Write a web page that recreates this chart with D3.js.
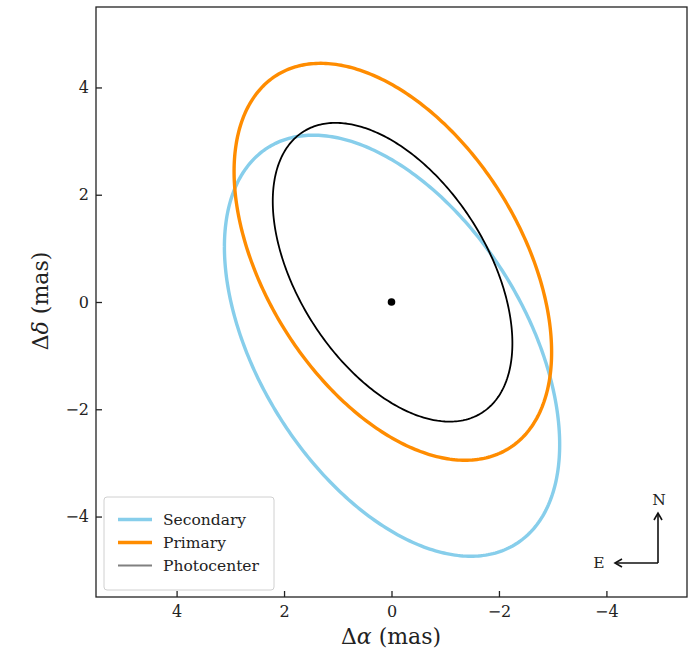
<!DOCTYPE html>
<html><head><meta charset="utf-8">
<script src="https://cdn.jsdelivr.net/npm/d3@7"></script>
<style>body{margin:0;background:#fff;} svg{display:block;}</style>
</head><body>
<svg id="c" width="697" height="654"></svg>
<script>
// ---- data ----
const series = ["Secondary", "Primary", "Photocenter"];
const colors = ["#87CEEB", "#FF8C00", "#000000"];
const legendColors = ["#87CEEB", "#FF8C00", "#808080"];
const widths = [3.4, 3.4, 1.8];
// ellipse parameters (mas): centre, half-extent in x and y, x-offset of topmost point
const centerX = [-0.01, -0.025, -0.02];
const centerY = [-0.815, 0.75, 0.555];
const halfX = [3.12, 2.955, 2.23];
const halfY = [3.925, 3.70, 2.785];
const topShift = [1.465, 1.345, 1.06];
const xTicks = [4, 2, 0, -2, -4];
const yTicks = [-4, -2, 0, 2, 4];
const xDomain = [5.5, -5.5];
const yDomain = [-5.5, 5.5];

// ---- layout ----
const L = 96, R = 687, T = 7, B = 597;
const svg = d3.select("#c");
const x = d3.scaleLinear().domain(xDomain).range([L, R]);
const y = d3.scaleLinear().domain(yDomain).range([B, T]);
const font = "DejaVu Serif";

function ellipsePts(i) {
  const hx = halfX[i], hy = halfY[i];
  const S = topShift[i] * hy;
  const c = S / hx;
  const d = Math.sqrt(Math.max(hy * hy - c * c, 0));
  const pts = [];
  for (let k = 0; k <= 360; k++) {
    const t = k / 360 * 2 * Math.PI;
    pts.push([centerX[i] + hx * Math.cos(t), centerY[i] + c * Math.cos(t) + d * Math.sin(t)]);
  }
  return pts;
}
const line = d3.line().x(p => x(p[0])).y(p => y(p[1]));

const g = svg.append("g");
series.forEach((s, i) => {
  g.append("path").attr("d", line(ellipsePts(i)))
    .attr("fill", "none").attr("stroke", colors[i]).attr("stroke-width", widths[i]);
});
g.append("circle").attr("cx", x(0)).attr("cy", y(0)).attr("r", 3.8).attr("fill", "#000");

// frame
svg.append("rect").attr("x", L).attr("y", T).attr("width", R - L).attr("height", B - T)
  .attr("fill", "none").attr("stroke", "#222").attr("stroke-width", 1.3);

// axes (ticks inward)
const xa = svg.append("g").attr("transform", `translate(0,${B})`)
  .call(d3.axisBottom(x).tickValues(xTicks).tickSizeInner(-6).tickSizeOuter(0).tickPadding(9)
    .tickFormat(d => d < 0 ? "\u2212" + Math.abs(d) : d));
const ya = svg.append("g").attr("transform", `translate(${L},0)`)
  .call(d3.axisLeft(y).tickValues(yTicks).tickSizeInner(-6).tickSizeOuter(0).tickPadding(7)
    .tickFormat(d => d < 0 ? "\u2212" + Math.abs(d) : d));
[xa, ya].forEach(a => {
  a.select(".domain").remove();
  a.selectAll(".tick line").attr("stroke", "#222").attr("stroke-width", 1.3);
  a.selectAll(".tick text").attr("font-family", font).attr("font-size", 16).attr("fill", "#222");
});

// axis titles
svg.append("text").attr("x", 391).attr("y", 644).attr("text-anchor", "middle")
  .attr("font-family", font).attr("font-size", 22).attr("fill", "#222")
  .html('\u0394<tspan font-style="italic">\u03b1</tspan> (mas)');
svg.append("text").attr("transform", "translate(48,301) rotate(-90)").attr("text-anchor", "middle")
  .attr("font-family", font).attr("font-size", 22).attr("fill", "#222")
  .html('\u0394<tspan font-style="italic">\u03b4</tspan> (mas)');

// legend
const lg = svg.append("g");
lg.append("rect").attr("x", 104).attr("y", 497).attr("width", 170).attr("height", 93)
  .attr("rx", 3).attr("fill", "#fff").attr("fill-opacity", 0.85)
  .attr("stroke", "#d0d0d0").attr("stroke-width", 1);
series.forEach((s, i) => {
  const yy = 519.5 + i * 23;
  lg.append("line").attr("x1", 118).attr("x2", 152).attr("y1", yy).attr("y2", yy)
    .attr("stroke", legendColors[i]).attr("stroke-width", widths[i]);
  lg.append("text").attr("x", 163).attr("y", yy).attr("dy", "0.35em")
    .attr("font-family", font).attr("font-size", 15.5).attr("fill", "#222").text(s);
});

// compass
const ox = 658, oy = 563;
const ar = svg.append("g").attr("stroke", "#111").attr("stroke-width", 1.6).attr("fill", "none");
ar.append("line").attr("x1", ox).attr("y1", oy).attr("x2", ox).attr("y2", 513);
ar.append("path").attr("d", `M${ox-4},${520} L${ox},${513} L${ox+4},${520}`);
ar.append("line").attr("x1", ox).attr("y1", oy).attr("x2", 615).attr("y2", oy);
ar.append("path").attr("d", `M${622},${oy-4} L${615},${oy} L${622},${oy+4}`);
svg.append("text").attr("x", 659).attr("y", 500).attr("dy", "0.35em").attr("text-anchor", "middle")
  .attr("font-family", font).attr("font-size", 15.5).attr("fill", "#222").text("N");
svg.append("text").attr("x", 599).attr("y", 563).attr("dy", "0.35em").attr("text-anchor", "middle")
  .attr("font-family", font).attr("font-size", 15.5).attr("fill", "#222").text("E");
</script>
</body></html>
